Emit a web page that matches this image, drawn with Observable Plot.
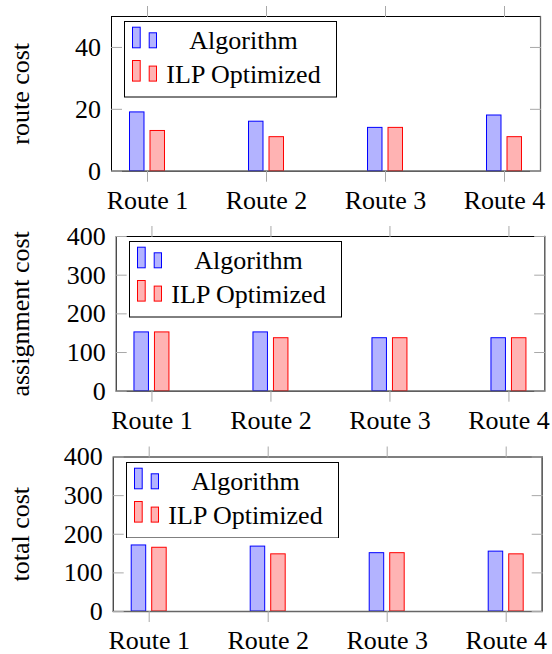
<!DOCTYPE html>
<html><head><meta charset="utf-8">
<script src="https://cdn.jsdelivr.net/npm/d3@7"></script>
<script src="https://cdn.jsdelivr.net/npm/@observablehq/plot@0.6"></script>
<style>
body{margin:0;background:#fff;font-family:"Liberation Serif","DejaVu Serif",serif;}
.panel{position:relative;width:552px;}
.panel svg{display:block}
.legend{position:absolute}
</style></head><body><div id="chart"></div>
<script>
// ---- data ----
const routes = ["Route 1", "Route 2", "Route 3", "Route 4"];
const seriesNames = ["Algorithm", "ILP Optimized"];
const routeCostAlgorithm = [19, 16, 14, 18];
const routeCostILP = [13, 11, 14, 11];
const assignCostAlgorithm = [152, 152, 137, 137];
const assignCostILP = [152, 137, 137, 137];
const totalCostAlgorithm = [171, 168, 151, 155];
const totalCostILP = [165, 148, 151, 148];
const routeTicks = [0, 20, 40];
const costTicks = [0, 100, 200, 300, 400];
const yTitles = ["route cost", "assignment cost", "total cost"];

// ---- styles ----
const FONT = "Liberation Serif, DejaVu Serif, serif";
const BLUE_FILL = "#b3b3ff", BLUE = "#0000ff";
const RED_FILL = "#ffb3b3", RED = "#ff0000";
const TICK = "#a8a8a8";

const panels = [
  {title: yTitles[0], alg: routeCostAlgorithm, ilp: routeCostILP, yMax: 50, ticks: routeTicks,
   height: 220, mt: 16, mb: 49.3, ml: 111, mr: 12},
  {title: yTitles[1], alg: assignCostAlgorithm, ilp: assignCostILP, yMax: 400, ticks: costTicks,
   height: 220, mt: 16, mb: 49.3, ml: 115.7, mr: 7.8},
  {title: yTitles[2], alg: totalCostAlgorithm, ilp: totalCostILP, yMax: 400, ticks: costTicks,
   height: 214, mt: 16.5, mb: 43, ml: 112.7, mr: 10.3}
];

const root = document.getElementById("chart");
const STEP = 119, PI = 0.664;

for (const p of panels) {
  const data = routes.map((r, i) => ({route: r, alg: p.alg[i], ilp: p.ilp[i]}));
  const W = 552 - p.ml - p.mr;
  const PO = (W / STEP - routes.length + PI) / 2;
  const blank = () => "";
  const plot = Plot.plot({
    width: 552, height: p.height,
    marginTop: p.mt, marginBottom: p.mb, marginLeft: p.ml, marginRight: p.mr,
    style: {fontFamily: FONT, fontSize: "26px", background: "white", color: "black"},
    x: {type: "band", domain: routes, paddingInner: PI, paddingOuter: PO, round: false, label: null},
    y: {domain: [0, p.yMax], label: null},
    marks: [
      Plot.frame({stroke: "black", strokeWidth: 1}),
      Plot.barY(data, {x: "route", y: "alg", fill: BLUE_FILL, stroke: BLUE, strokeWidth: 1, insetLeft: 2.5, insetRight: 23}),
      Plot.barY(data, {x: "route", y: "ilp", fill: RED_FILL, stroke: RED, strokeWidth: 1, insetLeft: 23, insetRight: 2.5}),
      Plot.ruleY([0], {stroke: "#666", strokeWidth: 1.3}),
      Plot.frame({anchor: "right", stroke: "#666", strokeWidth: 1.3}),
      // x ticks (top & bottom, outward)
      Plot.axisX({anchor: "top", tickSize: 11, stroke: TICK, tickFormat: blank, label: null}),
      Plot.axisX({anchor: "bottom", tickSize: 11, stroke: TICK, tickFormat: blank, label: null}),
      // x tick labels
      Plot.axisX({anchor: "bottom", tickSize: 0, tickPadding: 19.5, label: null, fill: "black", fontFamily: FONT}),
      // y ticks inside on both sides
      Plot.axisY({anchor: "left", ticks: p.ticks, tickSize: 11, dx: 11, stroke: TICK, tickFormat: blank, label: null}),
      Plot.axisY({anchor: "right", ticks: p.ticks, tickSize: 11, dx: -11, stroke: TICK, tickFormat: blank, label: null}),
      // y tick labels
      Plot.axisY({anchor: "left", ticks: p.ticks, tickSize: 0, tickPadding: 10.5, label: null, fill: "black", fontFamily: FONT}),
      // y title
      Plot.text([p.title], {text: d => d, frameAnchor: "left", textAnchor: "middle", lineAnchor: "middle", rotate: -90, dx: 19.7 - p.ml, fontSize: 26, fontFamily: FONT, fill: "black"})
    ]
  });
  const div = document.createElement("div");
  div.className = "panel";
  div.appendChild(plot);

  // legend overlay
  const LW = 213, LH = 76.5;
  const lg = d3.create("svg").attr("class", "legend").attr("width", LW).attr("height", LH)
    .style("left", (p.ml + 13) + "px").style("top", (p.mt + 5.3) + "px");
  lg.append("rect").attr("x", 0.5).attr("y", 0.5).attr("width", LW - 1).attr("height", LH - 1)
    .attr("fill", "white").attr("stroke", "black").attr("stroke-width", 1);
  const rows = [{name: seriesNames[0], fill: BLUE_FILL, stroke: BLUE}, {name: seriesNames[1], fill: RED_FILL, stroke: RED}];
  rows.forEach((r, i) => {
    const oy = i * 33.3;
    lg.append("rect").attr("x", 8.5).attr("y", 6.2 + oy).attr("width", 7.7).attr("height", 20.6)
      .attr("fill", r.fill).attr("stroke", r.stroke);
    lg.append("rect").attr("x", 25.2).attr("y", 11.8 + oy).attr("width", 7.3).attr("height", 15)
      .attr("fill", r.fill).attr("stroke", r.stroke);
    lg.append("text").attr("x", 119.5).attr("y", 28.3 + oy).attr("text-anchor", "middle")
      .style("font-family", FONT).style("font-size", "26px").attr("fill", "black").text(r.name);
  });
  div.appendChild(lg.node());
  root.appendChild(div);
}
</script>
</body></html>
